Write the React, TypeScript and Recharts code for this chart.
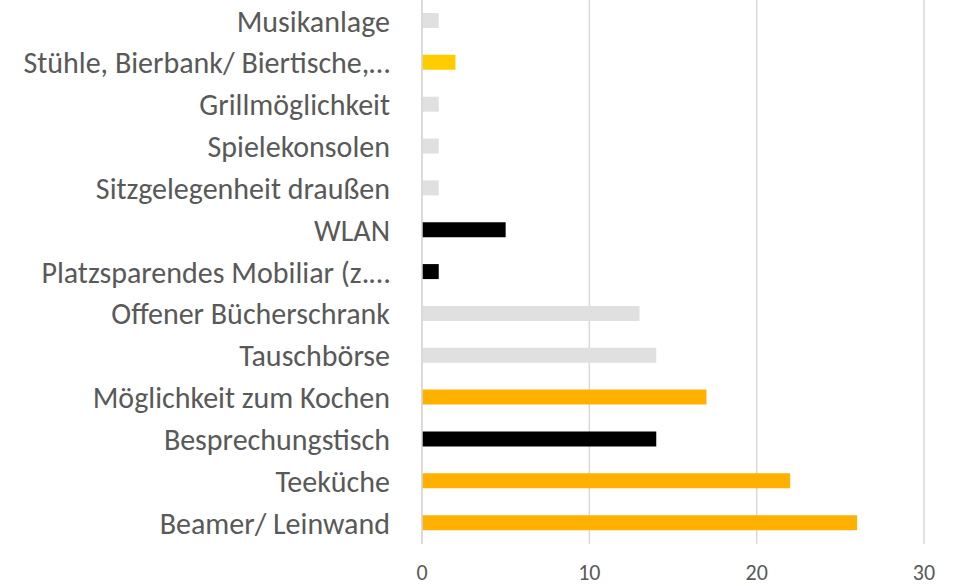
import { Bar, BarChart, CartesianGrid, Cell, XAxis, YAxis } from 'recharts';

const categories = [
	'Musikanlage',
	'Stühle, Bierbank/ Biertische,…',
	'Grillmöglichkeit',
	'Spielekonsolen',
	'Sitzgelegenheit draußen',
	'WLAN',
	'Platzsparendes Mobiliar (z.…',
	'Offener Bücherschrank',
	'Tauschbörse',
	'Möglichkeit zum Kochen',
	'Besprechungstisch',
	'Teeküche',
	'Beamer/ Leinwand',
];

const counts = [1, 2, 1, 1, 1, 5, 1, 13, 14, 17, 14, 22, 26];

const barColors = [
	'#E0E0E0',
	'#FFCC00',
	'#E0E0E0',
	'#E0E0E0',
	'#E0E0E0',
	'#000000',
	'#000000',
	'#E0E0E0',
	'#E0E0E0',
	'#FFB000',
	'#000000',
	'#FFB000',
	'#FFB000',
];

const xTicks = [0, 10, 20, 30];

const data = categories.map((name, i) => ({ name, value: counts[i] }));

const FONT = "Carlito, Calibri, 'Open Sans', sans-serif";

export default function App() {
	return (
		<div style={{ position: 'absolute', left: 0, top: 0, background: '#fff' }}>
			<BarChart
				width={961}
				height={586}
				data={data}
				layout='vertical'
				margin={{ top: 0, right: 37, left: 0, bottom: 0 }}>
				<CartesianGrid
					horizontal={false}
					stroke='#D9D9D9'
					strokeWidth={1.5}
				/>
				<XAxis
					type='number'
					domain={[0, 30]}
					ticks={xTicks}
					height={42}
					axisLine={false}
					tickLine={false}
					tickMargin={14}
					tick={{ fill: '#595959', fontSize: 22, fontFamily: FONT }}
				/>
				<YAxis
					type='category'
					dataKey='name'
					width={422}
					axisLine={{ stroke: '#D9D9D9', strokeWidth: 1.5 }}
					tickLine={false}
					tickMargin={26}
					interval={0}
					tick={{ fill: '#595959', fontSize: 30, fontFamily: FONT }}
				/>
				<Bar
					dataKey='value'
					barSize={15}
					isAnimationActive={false}>
					{data.map((d, i) => (
						<Cell
							key={d.name}
							fill={barColors[i]}
						/>
					))}
				</Bar>
			</BarChart>
		</div>
	);
}
